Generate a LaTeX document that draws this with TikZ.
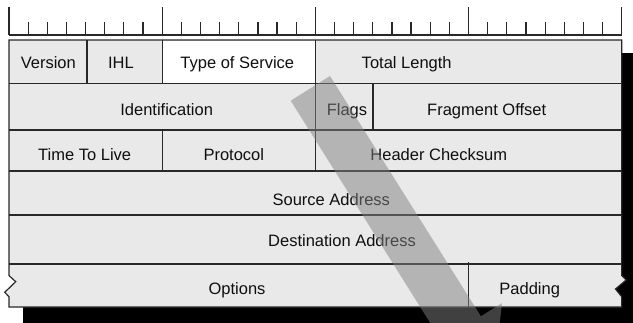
\documentclass[tikz,border=0pt]{standalone}
\usepackage{fontspec}
\setmainfont{Liberation Sans}
\definecolor{cellgray}{RGB}{233,233,233}
\definecolor{rule}{RGB}{40,40,40}
\definecolor{ink}{RGB}{15,15,15}
\tikzset{
  field/.style={anchor=base, inner sep=0pt, text=ink, font=\fontsize{16.5}{19}\selectfont},
  grid/.style={draw=rule, line width=1.2pt},
  tick/.style={draw=rule, line width=1.2pt},
}
\begin{document}
\begin{tikzpicture}[x=1pt,y=-1pt]
\useasboundingbox (0,0) rectangle (633,322);
\fill[white] (0,0) rectangle (633,322);

% bit ruler: one tick per bit, long ticks every octet
\draw[tick] (9,35) -- (621.7,35);
\foreach \i in {0,...,32}{
  \pgfmathsetmacro{\xx}{9+\i*19.147}
  \pgfmathtruncatemacro{\oct}{mod(\i,8)}
  \ifnum\oct=0
    \draw[tick] (\xx,35) -- (\xx,7);
  \else
    \draw[tick] (\xx,35) -- (\xx,22);
  \fi
}

% drop shadow
\fill[black] (22.7,53) rectangle (640,330);

% header outline with torn edges on the options row
\path[fill=cellgray, grid]
  (9,40) -- (621.7,40) -- (621.7,275.5) -- (626.2,280) -- (615.5,289)
  -- (621.7,296.7) -- (621.7,307) -- (9,307) -- (9,296.7) -- (4.7,292.3)
  -- (15.7,281.7) -- (9,275.5) -- cycle;

% white Type of Service field
\fill[white] (162.7,40.6) rectangle (315.5,83.5);

% row separators
\foreach \yy in {83.5,130,171,215,264}
  \draw[grid] (9,\yy) -- (621.7,\yy);

% field separators
\draw[grid] (87,40) -- (87,83.5);
\draw[grid] (162.7,40) -- (162.7,83.5);
\draw[grid] (315.5,40) -- (315.5,171);
\draw[grid] (373,83.5) -- (373,130);
\draw[grid] (162.7,130) -- (162.7,171);
\draw[grid] (468.5,262) -- (468.5,307);

% field names
\node[field] (ver)   at (48.3,68.3)  {Version};
\node[field] (ihl)   at (121,68.3)   {IHL};
\node[field] (tos)   at (237.3,68.3) {Type of Service};
\node[field] (tlen)  at (406.7,68.3) {Total Length};
\node[field] (ident) at (166.7,115)  {Identification};
\node[field] (flg)   at (347,115)    {Flags};
\node[field] (frag)  at (486.7,115)  {Fragment Offset};
\node[field] (ttl)   at (84.7,160)   {Time To Live};
\node[field] (proto) at (233.8,160)  {Protocol};
\node[field] (hcs)   at (438.8,160)  {Header Checksum};
\node[field] (src)   at (331.3,205)  {Source Address};
\node[field] (dst)   at (342,246)    {Destination Address};
\node[field] (opt)   at (237,294.3)  {Options};
\node[field] (pad)   at (529.7,294.3){Padding};

% translucent arrow laid over the header
\fill[gray, opacity=0.5]
  (290.7,100.7) -- (330,76) -- (480.9,316.3) -- (502,303.1)
  -- (493.2,379.5) -- (420.5,354.2) -- (441.6,341) -- cycle;
\end{tikzpicture}
\end{document}
